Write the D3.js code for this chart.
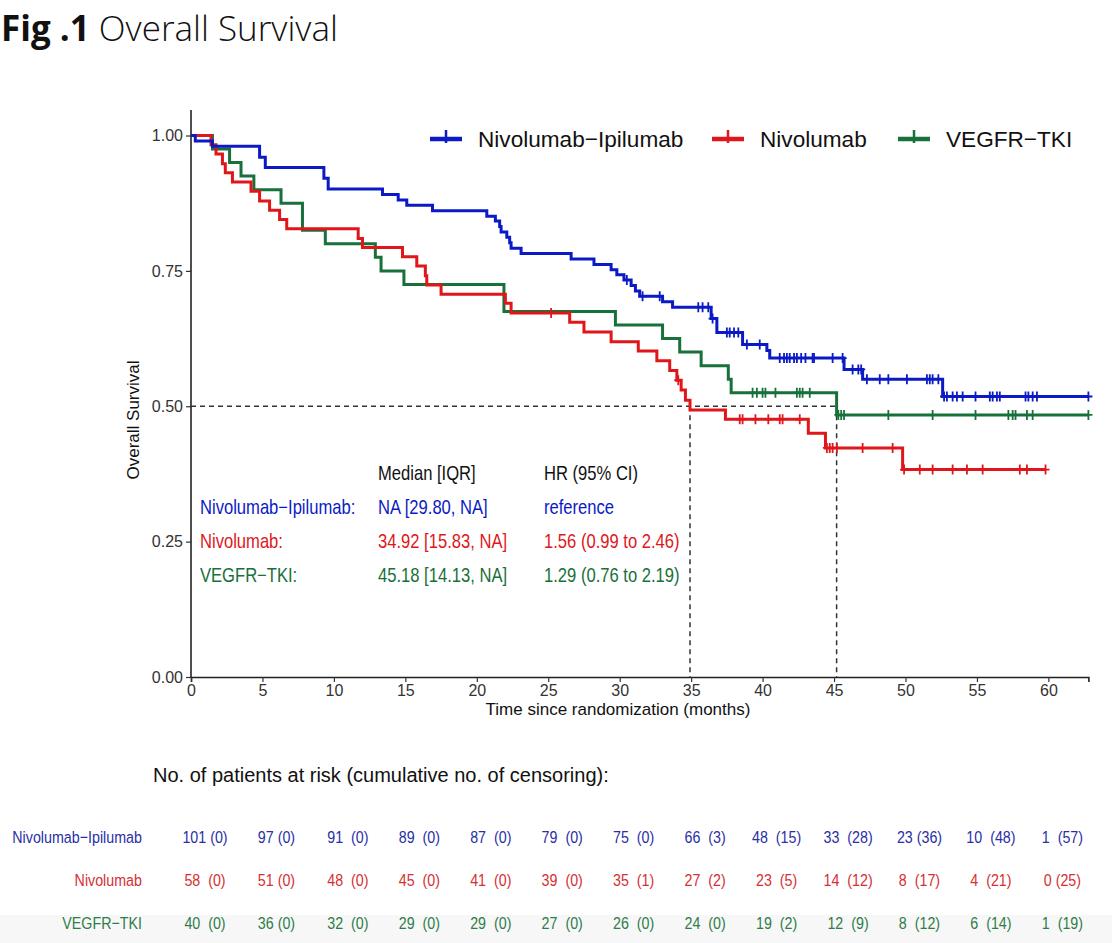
<!DOCTYPE html>
<html><head><meta charset="utf-8">
<script src="https://cdn.jsdelivr.net/npm/d3@7"></script>
<style>
html,body{margin:0;padding:0;background:#fff;}
svg{display:block;}
text{font-family:"Liberation Sans",Arial,sans-serif;}
</style>
</head><body>
<script>
// ---------- DATA ----------
const seriesNames = ["Nivolumab\u2212Ipilumab", "Nivolumab", "VEGFR\u2212TKI"];
const seriesColors = ["#0b1ac4", "#e0161b", "#18703a"];
const tableColors = ["#2a2fa6", "#d43034", "#2e7d49"];

const niTimes = [0.3, 1.5, 4.8, 5.2, 9.3, 9.6, 13.4, 14.5, 15.1, 16.9, 20.7, 21.3, 21.6, 21.7, 22.1, 22.3, 22.4, 23.1, 26.6, 28.2, 29.4, 29.8, 30.3, 30.8, 31.1, 31.4, 33.0, 33.7, 36.4, 36.8, 38.6, 40.3, 40.5, 45.7, 47.0, 52.6];
const niSurv  = [0.990, 0.980, 0.960, 0.941, 0.921, 0.901, 0.891, 0.881, 0.871, 0.861, 0.851, 0.842, 0.832, 0.822, 0.812, 0.802, 0.792, 0.782, 0.772, 0.762, 0.752, 0.743, 0.733, 0.723, 0.713, 0.703, 0.693, 0.683, 0.662, 0.636, 0.614, 0.603, 0.589, 0.568, 0.550, 0.518];
const niCensor = [30.5, 31.6, 32.8, 35.5, 35.8, 36.2, 36.5, 37.5, 37.7, 38.0, 38.3, 38.9, 39.8, 41.2, 41.5, 41.7, 41.9, 42.2, 42.4, 42.7, 43.0, 43.5, 43.6, 44.9, 45.6, 46.3, 46.7, 46.9, 47.3, 48.2, 48.8, 50.1, 51.5, 51.7, 51.9, 52.3, 52.7, 52.9, 53.3, 53.6, 54.0, 54.9, 55.9, 56.1, 56.4, 56.6, 58.4, 58.6, 58.9, 59.2, 62.8];
const niEnd = 62.8;

const nTimes = [1.4, 1.75, 2.2, 2.4, 2.9, 4.2, 4.8, 5.5, 6.2, 6.7, 11.7, 12.0, 14.8, 15.8, 16.4, 16.5, 17.5, 22.0, 22.4, 26.5, 27.5, 29.4, 31.3, 32.6, 33.5, 34.0, 34.3, 34.6, 34.92, 37.4, 43.2, 44.4, 49.8];
const nSurv  = [0.983, 0.966, 0.948, 0.931, 0.914, 0.897, 0.879, 0.862, 0.845, 0.828, 0.810, 0.793, 0.776, 0.759, 0.741, 0.724, 0.707, 0.690, 0.672, 0.655, 0.637, 0.619, 0.602, 0.584, 0.566, 0.548, 0.530, 0.511, 0.493, 0.476, 0.450, 0.423, 0.383];
const nCensor = [25.2, 34.1, 38.4, 38.6, 39.5, 40.4, 41.2, 41.4, 42.6, 44.5, 44.7, 44.9, 45.2, 47.0, 49.1, 49.9, 51.0, 51.9, 53.3, 54.3, 55.4, 58.0, 58.5, 59.8];
const nEnd = 59.8;

const vTimes = [1.5, 2.7, 3.5, 4.4, 6.3, 7.8, 9.4, 12.9, 13.3, 14.9, 21.9, 29.7, 33.0, 34.2, 35.7, 37.6, 37.8, 45.18];
const vSurv  = [0.975, 0.950, 0.925, 0.900, 0.875, 0.825, 0.800, 0.775, 0.750, 0.725, 0.675, 0.650, 0.625, 0.600, 0.575, 0.550, 0.525, 0.484];
const vCensor = [39.3, 39.6, 40.0, 40.2, 40.9, 42.4, 42.6, 42.8, 43.3, 45.3, 45.5, 45.7, 48.8, 51.9, 54.9, 57.2, 57.5, 57.7, 58.5, 58.9, 62.8];
const vEnd = 62.8;

const medians = [34.92, 45.18];

const xTicks = [0, 5, 10, 15, 20, 25, 30, 35, 40, 45, 50, 55, 60];
const yTicks = [0, 0.25, 0.5, 0.75, 1.0];
const yTickLabels = ["0.00", "0.25", "0.50", "0.75", "1.00"];

const annHeader = ["Median [IQR]", "HR (95% CI)"];
const annLabels = ["Nivolumab\u2212Ipilumab:", "Nivolumab:", "VEGFR\u2212TKI:"];
const annMedian = ["NA [29.80, NA]", "34.92 [15.83, NA]", "45.18 [14.13, NA]"];
const annHR = ["reference", "1.56 (0.99 to 2.46)", "1.29 (0.76 to 2.19)"];

const riskTimes = xTicks;
const riskNI = ["101 (0)", "97 (0)", "91  (0)", "89  (0)", "87  (0)", "79  (0)", "75  (0)", "66  (3)", "48  (15)", "33  (28)", "23 (36)", "10  (48)", "1  (57)"];
const riskN  = ["58  (0)", "51 (0)", "48  (0)", "45  (0)", "41  (0)", "39  (0)", "35  (1)", "27  (2)", "23  (5)", "14  (12)", "8  (17)", "4  (21)", "0 (25)"];
const riskV  = ["40  (0)", "36 (0)", "32  (0)", "29  (0)", "29  (0)", "27  (0)", "26  (0)", "24  (0)", "19  (2)", "12  (9)", "8  (12)", "6  (14)", "1  (19)"];

// ---------- CHART ----------
const W = 1112, H = 943;
const svg = d3.select("body").append("svg").attr("width", W).attr("height", H);
svg.append("rect").attr("width", W).attr("height", H).attr("fill", "#fff");
svg.append("rect").attr("x", 0).attr("y", 915).attr("width", W).attr("height", H - 915).attr("fill", "#f7f7f7");

const x = d3.scaleLinear().domain([0, 62.8]).range([191, 1088.4]);
const y = d3.scaleLinear().domain([0, 1]).range([677, 135.5]);

// horizontally condensed text helper
function ctext(parent, tx, ty, size, sx, txt, fill, anchor) {
  return parent.append("text")
    .attr("transform", `translate(${tx},${ty}) scale(${sx},1)`)
    .attr("text-anchor", anchor || "start")
    .attr("xml:space", "preserve")
    .style("font-size", size + "px").attr("fill", fill).text(txt);
}

// title
const title = svg.append("text").attr("x", 1).attr("y", 41)
  .style("font-family", "'Open Sans', Lato, sans-serif").style("font-size", "35px").attr("fill", "#111");
title.append("tspan").attr("font-weight", "bold").text("Fig .1");
title.append("tspan").attr("font-weight", "300").text(" Overall Survival");

// axes
const xAxis = svg.append("g").attr("transform", "translate(0,677)")
  .call(d3.axisBottom(x).tickValues(xTicks).tickSize(5).tickPadding(3).tickFormat(d3.format("d")));
xAxis.select(".domain").attr("stroke", "#222").attr("stroke-width", 1.6);
xAxis.selectAll(".tick line").attr("stroke", "#333").attr("stroke-width", 1.2);
xAxis.selectAll(".tick text").style("font-family", "'Liberation Sans', Arial, sans-serif").style("font-size", "16px").attr("fill", "#333");

const yAxis = svg.append("g").attr("transform", "translate(191,0)")
  .call(d3.axisLeft(y).tickValues(yTicks).tickSize(5).tickPadding(3).tickFormat((d, i) => yTickLabels[i]));
yAxis.select(".domain").remove();
yAxis.selectAll(".tick line").attr("stroke", "#333").attr("stroke-width", 1.2);
yAxis.selectAll(".tick text").style("font-family", "'Liberation Sans', Arial, sans-serif").style("font-size", "16px").attr("fill", "#333");
svg.append("line").attr("x1", 191).attr("x2", 191).attr("y1", 110).attr("y2", 677.8)
  .attr("stroke", "#222").attr("stroke-width", 1.6);

svg.append("text").attr("x", 618).attr("y", 715)
  .attr("text-anchor", "middle").style("font-size", "17px").attr("fill", "#111")
  .text("Time since randomization (months)");
svg.append("text").attr("transform", "translate(139,420) rotate(-90)")
  .attr("text-anchor", "middle").style("font-size", "17px").attr("fill", "#111")
  .text("Overall Survival");

// median dashed lines
const dash = svg.append("g").attr("stroke", "#333").attr("stroke-width", 1.5).attr("stroke-dasharray", "5,4").attr("fill", "none");
dash.append("line").attr("x1", x(0)).attr("x2", x(d3.max(medians))).attr("y1", y(0.5)).attr("y2", y(0.5));
medians.forEach(m => dash.append("line").attr("x1", x(m)).attr("x2", x(m)).attr("y1", y(0.5)).attr("y2", y(0)));

// curves
const series = [
  {times: niTimes, surv: niSurv, censor: niCensor, end: niEnd},
  {times: nTimes, surv: nSurv, censor: nCensor, end: nEnd},
  {times: vTimes, surv: vSurv, censor: vCensor, end: vEnd}
];
const line = d3.line().x(d => x(d[0])).y(d => y(d[1])).curve(d3.curveStepAfter);
function survAt(s, t) {
  let v = 1;
  for (let i = 0; i < s.times.length; i++) if (s.times[i] <= t) v = s.surv[i];
  return v;
}
const plusPath = "M-4,0H4M0,-5V5";
[2, 1, 0].forEach(k => {
  const s = series[k];
  const pts = [[0, 1]].concat(s.times.map((t, i) => [t, s.surv[i]]));
  pts.push([s.end, s.surv[s.surv.length - 1]]);
  svg.append("path").datum(pts).attr("d", line).attr("fill", "none")
    .attr("stroke", seriesColors[k]).attr("stroke-width", 3);
  svg.append("g").selectAll("path").data(s.censor).join("path")
    .attr("transform", t => `translate(${x(t)},${y(survAt(s, t))})`)
    .attr("d", plusPath).attr("stroke", seriesColors[k]).attr("stroke-width", 1.8).attr("fill", "none");
});

// legend
const legX = [430, 712, 898];
seriesNames.forEach((n, k) => {
  const g = svg.append("g").attr("transform", `translate(${legX[k]},139)`);
  g.append("line").attr("x1", 0).attr("x2", 32).attr("stroke", seriesColors[k]).attr("stroke-width", 4.5);
  g.append("path").attr("transform", "translate(16,0)").attr("d", "M0,-9V4").attr("stroke", seriesColors[k]).attr("stroke-width", 2.5);
  g.append("text").attr("x", 48).attr("y", 8).style("font-size", "22.6px").attr("fill", "#111").text(n);
});

// annotation
const annX = [200, 378, 544];
const annY = [480, 514, 548, 582];
const sxAnn = 0.83;
ctext(svg, annX[1], annY[0], 20, sxAnn, annHeader[0], "#111");
ctext(svg, annX[2], annY[0], 20, sxAnn, annHeader[1], "#111");
annLabels.forEach((l, k) => {
  [l, annMedian[k], annHR[k]].forEach((txt, c) => {
    ctext(svg, annX[c], annY[k + 1], 20, sxAnn, txt, seriesColors[k]);
  });
});

// risk table
svg.append("text").attr("x", 153).attr("y", 782).style("font-size", "20px").attr("fill", "#111")
  .text("No. of patients at risk (cumulative no. of censoring):");
const riskRows = [riskNI, riskN, riskV];
const riskY = [843, 886, 929];
const sxTab = 0.84;
riskRows.forEach((row, k) => {
  ctext(svg, 142, riskY[k], 17, sxTab, seriesNames[k], tableColors[k], "end");
  row.forEach((d, i) => ctext(svg, x(riskTimes[i]) + 14, riskY[k], 17, sxTab, d, tableColors[k], "middle"));
});
</script>
</body></html>
